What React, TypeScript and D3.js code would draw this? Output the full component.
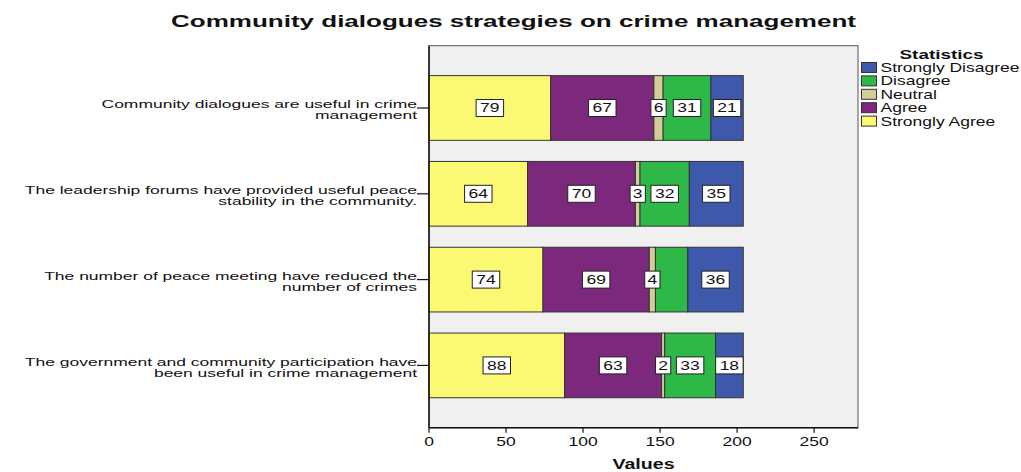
import React from "react";
import * as d3 from "d3";

const categories = [
  "Community dialogues are useful in crime\nmanagement",
  "The leadership forums have provided useful peace\nstability in the community.",
  "The number of peace meeting have reduced the\nnumber of crimes",
  "The government and community participation have\nbeen useful in crime management",
];
const seriesNames = ["Strongly Agree", "Agree", "Neutral", "Disagree", "Strongly Disagree"];
const stronglyAgree = [79, 64, 74, 88];
const agree = [67, 70, 69, 63];
const neutral = [6, 3, 4, 2];
const disagree = [31, 32, 21, 33];
const stronglyDisagree = [21, 35, 36, 18];
const hiddenLabels = ["2|Disagree"];
const xTicks = [0, 50, 100, 150, 200, 250];
const legendOrder = ["Strongly Disagree", "Disagree", "Neutral", "Agree", "Strongly Agree"];
const colors: Record<string, string> = {
  "Strongly Agree": "#FBF873",
  Agree: "#7C287D",
  Neutral: "#D3CE97",
  Disagree: "#2EB848",
  "Strongly Disagree": "#3E58AC",
};

const FONT = "'Liberation Sans', Arial, Helvetica, sans-serif";
const SX = 1.4;
const FS = 12.5;

export default function App() {
  const W = 1021, H = 472;
  const left = 429, right = 858, top = 45.7, bottom = 427.7;
  const rows = categories.map((c, i) => ({
    cat: c,
    "Strongly Agree": stronglyAgree[i],
    Agree: agree[i],
    Neutral: neutral[i],
    Disagree: disagree[i],
    "Strongly Disagree": stronglyDisagree[i],
  }));
  const x = d3.scaleLinear().domain([0, 278.5]).range([left, right]);
  const y = d3.scaleBand<string>().domain(categories).range([top, bottom]).paddingInner(0.246).paddingOuter(0.349);
  const stack = d3.stack<any>().keys(seriesNames);
  const layers = stack(rows);

  const sText = (x0: number, y0: number, txt: string, anchor: string, opts: any = {}) => (
    <text
      transform={`translate(${x0},${y0}) scale(${opts.sx ?? SX},1)`}
      textAnchor={anchor}
      fontFamily={FONT}
      fontSize={opts.fs ?? FS}
      fontWeight={opts.bold ? "bold" : "normal"}
      fill="#111"
    >
      {txt}
    </text>
  );

  return (
    <svg width={W} height={H} style={{ position: "absolute", left: 0, top: 0, background: "#fff" }}>
      <rect x={0} y={0} width={W} height={H} fill="#fff" />
      {/* title */}
      <text x={171} y={26.5} textLength={685} lengthAdjust="spacingAndGlyphs" fontFamily={FONT} fontSize={16.5} fontWeight="bold" fill="#111">
        Community dialogues strategies on crime management
      </text>
      {/* plot background */}
      <rect x={left} y={top} width={right - left} height={bottom - top} fill="#F0F0F0" stroke="#555" strokeWidth={1} />
      {/* bars */}
      {layers.map((layer) => (
        <g key={layer.key}>
          {layer.map((d, i) => (
            <rect
              key={i}
              x={x(d[0])}
              y={y(categories[i])!}
              width={x(d[1]) - x(d[0])}
              height={y.bandwidth()}
              fill={colors[layer.key]}
              stroke="#333"
              strokeWidth={1}
            />
          ))}
        </g>
      ))}
      {/* value labels */}
      {layers.map((layer) =>
        layer.map((d, i) => {
          if (hiddenLabels.includes(`${i}|${layer.key}`)) return null;
          const v = d[1] - d[0];
          const txt = String(v);
          const cx = (x(d[0]) + x(d[1])) / 2;
          const cy = y(categories[i])! + y.bandwidth() / 2;
          const tw = txt.length * 0.556 * FS * SX;
          const bw = tw + (txt.length > 1 ? 8 : 5.5);
          return (
            <g key={layer.key + i}>
              <rect x={cx - bw / 2} y={cy - 8.5} width={bw} height={17} fill="#fff" stroke="#222" strokeWidth={1} />
              {sText(cx, cy + 4.5, txt, "middle")}
            </g>
          );
        })
      )}
      {/* left axis */}
      <line x1={left} x2={left} y1={top} y2={bottom} stroke="#111" strokeWidth={1.5} />
      {categories.map((c) => {
        const cy = y(c)! + y.bandwidth() / 2;
        const lines = c.split("\n");
        return (
          <g key={c}>
            <line x1={417} x2={left} y1={cy} y2={cy} stroke="#111" strokeWidth={1.2} />
            {lines.map((ln, k) => (
              <g key={k}>{sText(417, cy + 0.5 + k * 11, ln, "end", { fs: 11.5, sx: 1.52 })}</g>
            ))}
          </g>
        );
      })}
      {/* bottom axis */}
      <line x1={left} x2={right} y1={bottom} y2={bottom} stroke="#111" strokeWidth={1.5} />
      {xTicks.map((t) => (
        <g key={t}>
          <line x1={x(t)} x2={x(t)} y1={bottom} y2={bottom + 5} stroke="#111" strokeWidth={1.2} />
          {sText(x(t), 446, String(t), "middle")}
        </g>
      ))}
      {sText((left + right) / 2, 468.5, "Values", "middle", { bold: true, fs: 14 })}
      {/* legend */}
      {sText(941.5, 58.5, "Statistics", "middle", { bold: true, fs: 13.5 })}
      {legendOrder.map((k, i) => {
        const cy = 67.5 + i * 13.4;
        return (
          <g key={k}>
            <rect x={861.5} y={cy - 5} width={15} height={10} fill={colors[k]} stroke="#333" strokeWidth={1} />
            {sText(880.5, cy + 4.5, k, "start")}
          </g>
        );
      })}
    </svg>
  );
}
